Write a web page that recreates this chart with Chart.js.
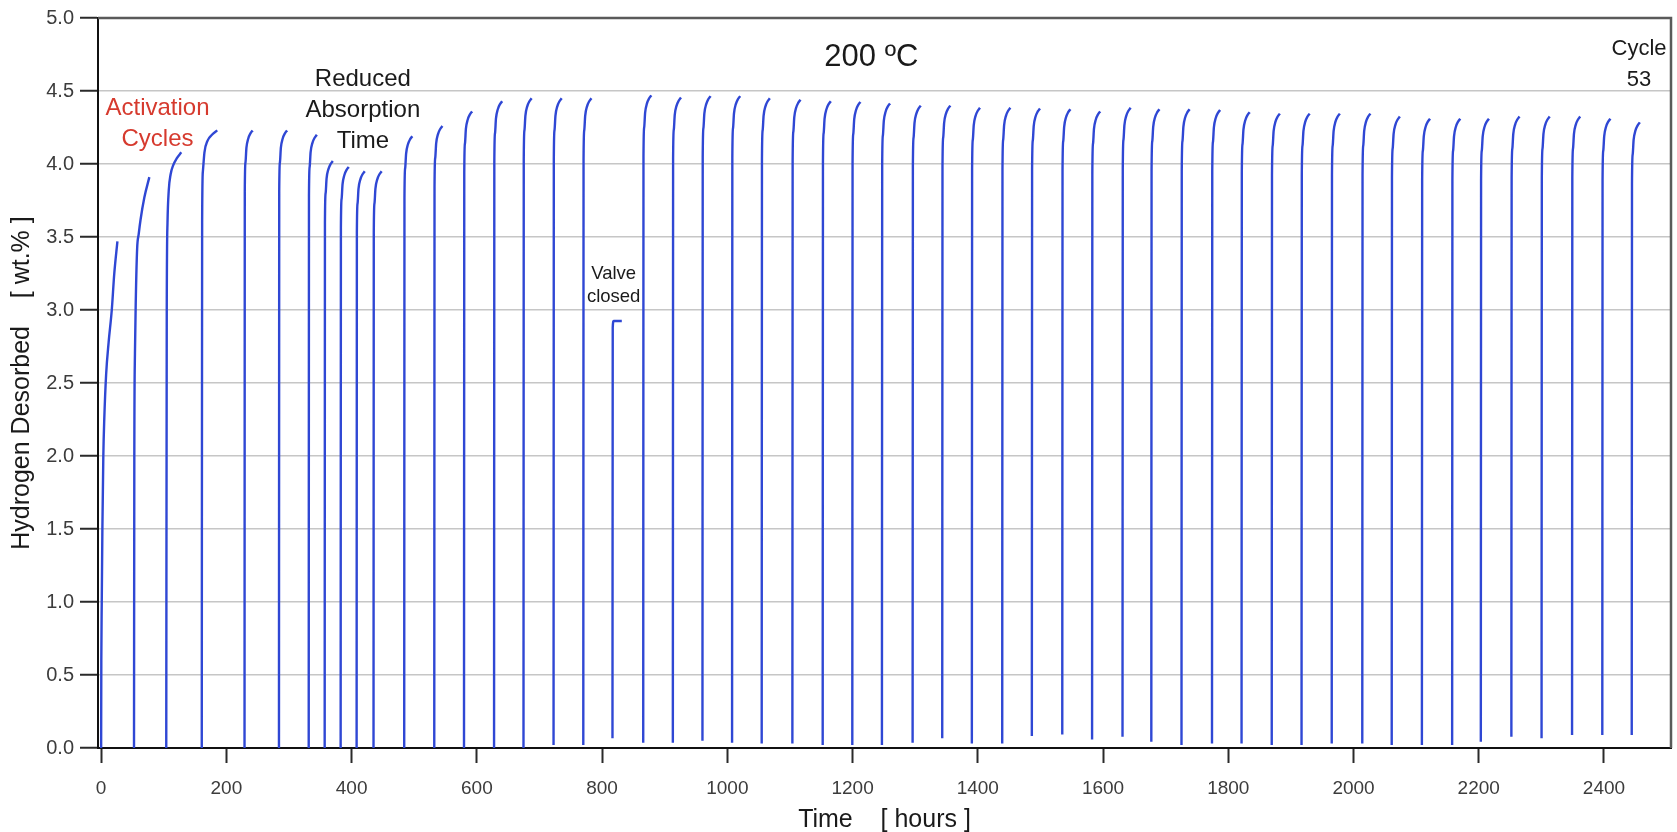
<!DOCTYPE html>
<html>
<head>
<meta charset="utf-8">
<script src="https://cdn.jsdelivr.net/npm/chart.js@4.4.1/dist/chart.umd.min.js"></script>
<style>
  html, body { margin: 0; padding: 0; background: #fff; overflow: hidden; }
  canvas { display: block; }
</style>
</head>
<body>
<canvas id="myChart" width="1677" height="832"></canvas>
<script>
// start time of each desorption cycle [hours]
const cycleStart = [0, 52.5, 104, 160.7, 229, 284, 331.5, 357, 382.5, 408, 435, 484, 532, 579.5, 627.5, 674.5,
  722.5, 770, 816.6, 865.7, 913, 960.3, 1007.6, 1054.9, 1103.9, 1152.3, 1199.6, 1246.9, 1295.9, 1343.2, 1390.5,
  1439, 1486.3, 1534.9, 1582.5, 1631.1, 1677.1, 1725.3, 1774, 1821.2, 1869.4, 1917, 1965.2, 2014, 2061, 2109.2,
  2157.5, 2203.3, 2252.1, 2300.3, 2349, 2397.3, 2444.3];
// max hydrogen desorbed per cycle [wt.%]
const cyclePeak = [3.47, 3.91, 4.08, 4.23, 4.23, 4.23, 4.20, 4.02, 3.98, 3.95, 3.95, 4.19, 4.26, 4.36, 4.43, 4.45,
  4.45, 4.45, 2.92, 4.47, 4.455, 4.465, 4.465, 4.45, 4.44, 4.43, 4.425, 4.415, 4.40, 4.40, 4.385,
  4.385, 4.38, 4.375, 4.36, 4.385, 4.375, 4.375, 4.37, 4.355, 4.345, 4.345, 4.345, 4.345, 4.325, 4.31,
  4.31, 4.31, 4.325, 4.325, 4.325, 4.31, 4.285];
// value where each curve starts
const cycleBase = [0, 0, 0, 0, 0, 0, 0, 0, 0, 0, 0, 0, 0, 0, 0, 0,
  0.02, 0.02, 0.066, 0.036, 0.036, 0.05, 0.036, 0.03, 0.03, 0.02, 0.02, 0.02, 0.036, 0.066, 0.03,
  0.03, 0.082, 0.093, 0.059, 0.077, 0.043, 0.02, 0.03, 0.03, 0.02, 0.02, 0.03, 0.03, 0.02, 0.02,
  0.02, 0.043, 0.077, 0.066, 0.089, 0.089, 0.089];

// shape of the top of a normal cycle: hours after start / drop below the peak
const hookDt = [0.4, 1.5, 3, 6, 9.5, 13];
const hookDrop = [0.42, 0.22, 0.12, 0.055, 0.02, 0];

// activation cycles and the "valve closed" cycle, read one by one
const cycle1Time = [0, 0.3, 1, 2, 3.5, 5, 8, 12, 17, 21, 26];
const cycle1Value = [0, 0.6, 1.0, 1.5, 2.0, 2.25, 2.56, 2.78, 3.0, 3.25, 3.47];
const cycle2Time = [52.5, 53, 54, 55.5, 57.5, 60, 63, 69, 77];
const cycle2Value = [0, 2.0, 2.7, 3.1, 3.42, 3.52, 3.62, 3.77, 3.91];
const cycle3Time = [104, 104.8, 106, 108, 111, 115, 121, 128];
const cycle3Value = [0, 3.0, 3.6, 3.82, 3.93, 3.99, 4.04, 4.08];
const cycle4Time = [160.7, 161.3, 162.5, 165, 170, 177, 185.5];
const cycle4Value = [0, 3.6, 3.95, 4.08, 4.16, 4.2, 4.23];
const valveTime = [816.6, 817, 818.5, 831.5];
const valveValue = [0.066, 2.88, 2.925, 2.925];

const xTicks = [0, 200, 400, 600, 800, 1000, 1200, 1400, 1600, 1800, 2000, 2200, 2400];
const yTicks = [0, 0.5, 1, 1.5, 2, 2.5, 3, 3.5, 4, 4.5, 5];

const notes = [
  { lines: ['200 ºC'], x: 1230, y: 4.727, size: 31, color: '#1a1a1a', gap: 0 },
  { lines: ['Cycle', '53'], x: 2456, y: 4.785, size: 22, color: '#1a1a1a', gap: 30.5 },
  { lines: ['Reduced', 'Absorption', 'Time'], x: 418, y: 4.58, size: 24, color: '#1a1a1a', gap: 30.8 },
  { lines: ['Activation', 'Cycles'], x: 90, y: 4.378, size: 24, color: '#d63a2e', gap: 30.5 },
  { lines: ['Valve', 'closed'], x: 818.5, y: 3.246, size: 18.5, color: '#1a1a1a', gap: 23 }
];

const special = { 0: [cycle1Time, cycle1Value], 1: [cycle2Time, cycle2Value], 2: [cycle3Time, cycle3Value],
  3: [cycle4Time, cycle4Value], 18: [valveTime, valveValue] };

let points = [];
for (let i = 0; i < cycleStart.length; i++) {
  let ts, vs;
  if (special[i]) {
    ts = special[i][0];
    vs = special[i][1];
  } else {
    ts = [cycleStart[i]].concat(hookDt.map(d => cycleStart[i] + d));
    vs = [cycleBase[i]].concat(hookDrop.map(d => cyclePeak[i] - d));
  }
  for (let k = 0; k < ts.length; k++) points.push({ x: ts[k], y: vs[k] });
  points.push({ x: ts[ts.length - 1] + 0.5, y: null }); // break between cycles
}

const frame = {
  id: 'frame',
  afterDraw(chart) {
    const { ctx, chartArea: a } = chart;
    ctx.save();
    ctx.strokeStyle = '#5a5a5a';
    ctx.lineWidth = 2.5;
    ctx.beginPath();
    ctx.moveTo(a.left, a.top);
    ctx.lineTo(a.right, a.top);
    ctx.lineTo(a.right, a.bottom);
    ctx.stroke();
    ctx.restore();
  }
};

const labels = {
  id: 'labels',
  afterDraw(chart) {
    const ctx = chart.ctx;
    const sx = chart.scales.x, sy = chart.scales.y;
    ctx.save();
    ctx.textAlign = 'center';
    ctx.textBaseline = 'middle';
    for (const n of notes) {
      ctx.font = n.size + 'px "Liberation Sans", Arial, sans-serif';
      ctx.fillStyle = n.color;
      const px = sx.getPixelForValue(n.x);
      const py = sy.getPixelForValue(n.y);
      n.lines.forEach((t, k) => ctx.fillText(t, px, py + k * n.gap));
    }
    ctx.restore();
  }
};

const ctx = document.getElementById('myChart').getContext('2d');
const myChart = new Chart(ctx, {
  type: 'line',
  data: {
    datasets: [{
      data: points,
      borderColor: '#2f47d4',
      borderWidth: 2.4,
      pointRadius: 0,
      spanGaps: false,
      cubicInterpolationMode: 'monotone'
    }]
  },
  options: {
    responsive: false,
    animation: false,
    devicePixelRatio: 1,
    layout: { padding: { left: 0, right: 6, top: 16, bottom: 0 } },
    plugins: { legend: { display: false }, tooltip: { enabled: false } },
    scales: {
      x: {
        type: 'linear',
        min: -5,
        max: 2507,
        afterFit: s => { s.height = 84; },
        afterBuildTicks: s => { s.ticks = xTicks.map(v => ({ value: v })); },
        grid: { drawOnChartArea: false, tickLength: 15, tickColor: '#2a2a2a', tickWidth: 2 },
        border: { color: '#111', width: 2 },
        ticks: {
          padding: 14,
          color: '#3c3c3c',
          font: { family: '"Liberation Sans", Arial, sans-serif', size: 19 },
          maxRotation: 0,
          callback: v => String(v)
        },
        title: {
          display: true,
          text: 'Time    [ hours ]',
          color: '#1a1a1a',
          font: { family: '"Liberation Sans", Arial, sans-serif', size: 25, lineHeight: 1 },
          padding: { top: 0, bottom: -1 }
        }
      },
      y: {
        min: 0,
        max: 5,
        afterFit: s => { s.width = 98; },
        afterBuildTicks: s => { s.ticks = yTicks.map(v => ({ value: v })); },
        grid: { color: '#c6c6c6', lineWidth: 1.5, tickLength: 18, tickColor: '#2a2a2a', tickWidth: 2 },
        border: { color: '#111', width: 2 },
        ticks: {
          padding: 6,
          color: '#3c3c3c',
          font: { family: '"Liberation Sans", Arial, sans-serif', size: 20 },
          callback: v => Number(v).toFixed(1)
        },
        title: {
          display: true,
          text: 'Hydrogen Desorbed    [ wt.% ]',
          color: '#1a1a1a',
          font: { family: '"Liberation Sans", Arial, sans-serif', size: 25, lineHeight: 1 },
          padding: { top: 10, bottom: 0 }
        }
      }
    }
  },
  plugins: [frame, labels]
});
</script>
</body>
</html>
